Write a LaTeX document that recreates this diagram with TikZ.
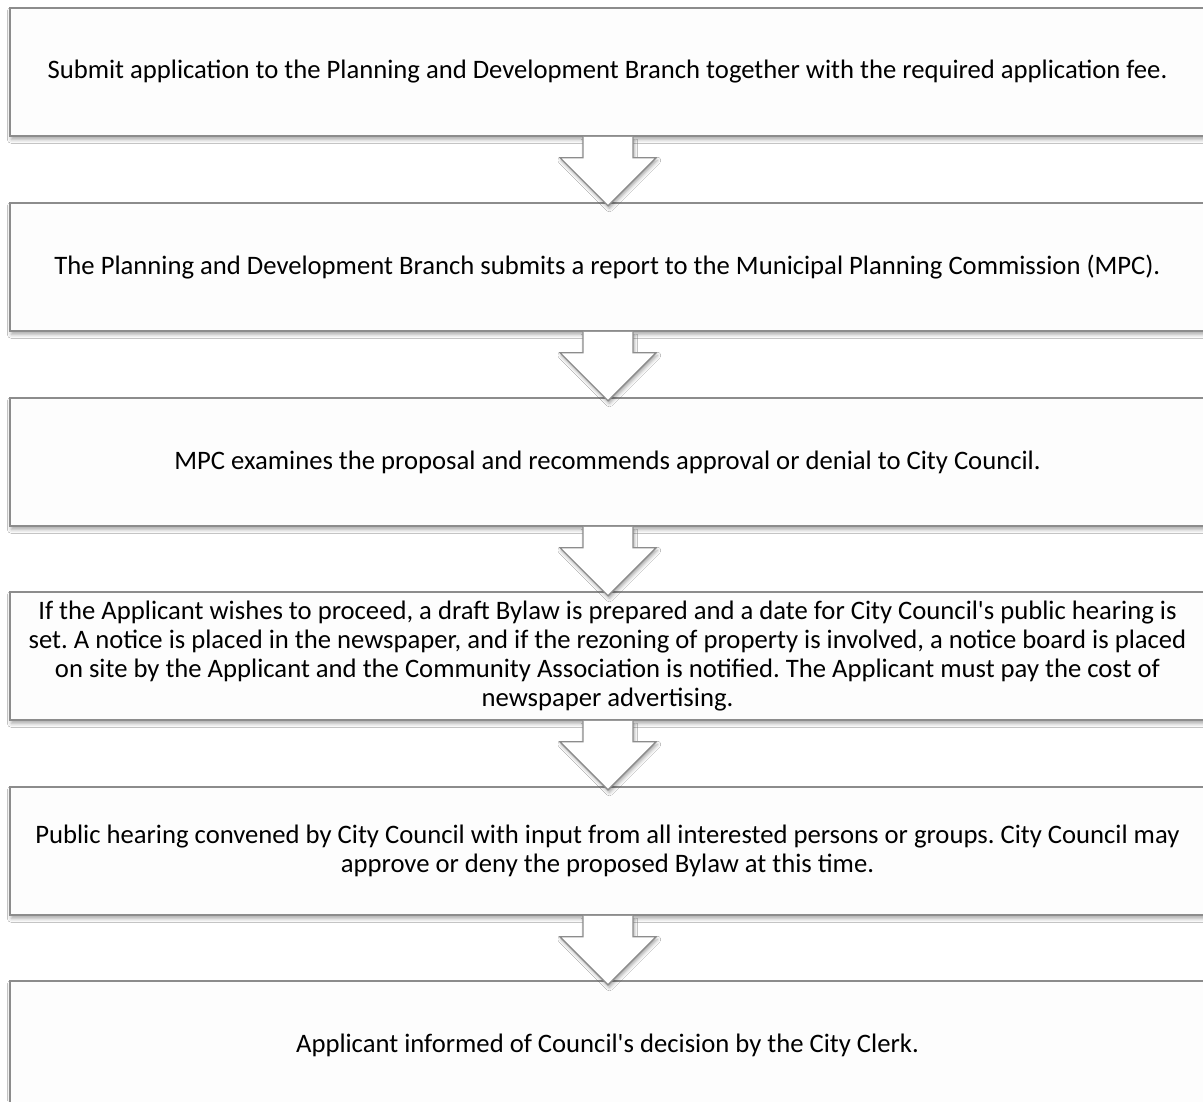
\documentclass[tikz,border=0pt]{standalone}
\usepackage{fontspec}
\setmainfont{Carlito}[Ligatures=TeXOff]
\usetikzlibrary{shadows.blur,calc}
\definecolor{edge}{HTML}{8C8C8C}
\definecolor{boxfill}{HTML}{FDFDFD}
\newcommand{\boxfont}{\fontsize{20}{21.8}\selectfont\frenchspacing\hyphenpenalty=10000\relax\exhyphenpenalty=10000\relax}
\tikzset{
  stepbox/.style={draw=edge, line width=1.2pt, fill=boxfill, rectangle,
    minimum width=896.25pt, minimum height=96pt, inner sep=0pt,
    text width=872pt, align=flush center, font=\boxfont,
    blur shadow={shadow xshift=1pt, shadow yshift=-2.5pt, shadow blur radius=3pt, shadow opacity=35}},
  downarrow/.style={draw=edge, line width=1pt, fill=white, line join=miter,
    blur shadow={shadow xshift=1pt, shadow yshift=-2pt, shadow blur radius=2.5pt, shadow opacity=35}}
}
\begin{document}
\begin{tikzpicture}[x=0.75pt,y=-0.75pt]
\useasboundingbox (0,0) rectangle (1203,1101);
\fill[white] (0,0) rectangle (1203,1101);
\node[stepbox] (b1) at (607.5,72) {Submit application to the Planning and Development Branch together with the required application fee.};
\node[stepbox] (b2) at (607.5,267) {The Planning and Development Branch submits a report to the Municipal Planning Commission (MPC).};
\node[stepbox] (b3) at (607.5,462) {MPC examines the proposal and recommends approval or denial to City Council.};
\node[stepbox] (b4) at (607.5,656) {If the Applicant wishes to proceed, a draft Bylaw is prepared and a date for City Council's public hearing is set. A notice is placed in the newspaper, and if the rezoning of property is involved, a notice board is placed on site by the Applicant and the Community Association is notified. The Applicant must pay the cost of newspaper advertising.};
\node[stepbox] (b5) at (607.5,851) {Public hearing convened by City Council with input from all interested persons or groups. City Council may approve or deny the proposed Bylaw at this time.};
\node[stepbox] (b6) at (607.5,1045) {Applicant informed of Council's decision by the City Clerk.};
\foreach \a in {1,...,5}{
  \coordinate (s\a) at ($(b\a.south)+(0.5,0)$);
  \draw[downarrow] ($(s\a)+(-25,0)$) -- ($(s\a)+(-25,21)$) -- ($(s\a)+(-48,21)$)
     -- ($(s\a)+(0,69)$) -- ($(s\a)+(48,21)$) -- ($(s\a)+(25,21)$) -- ($(s\a)+(25,0)$);
}
\end{tikzpicture}
\end{document}
